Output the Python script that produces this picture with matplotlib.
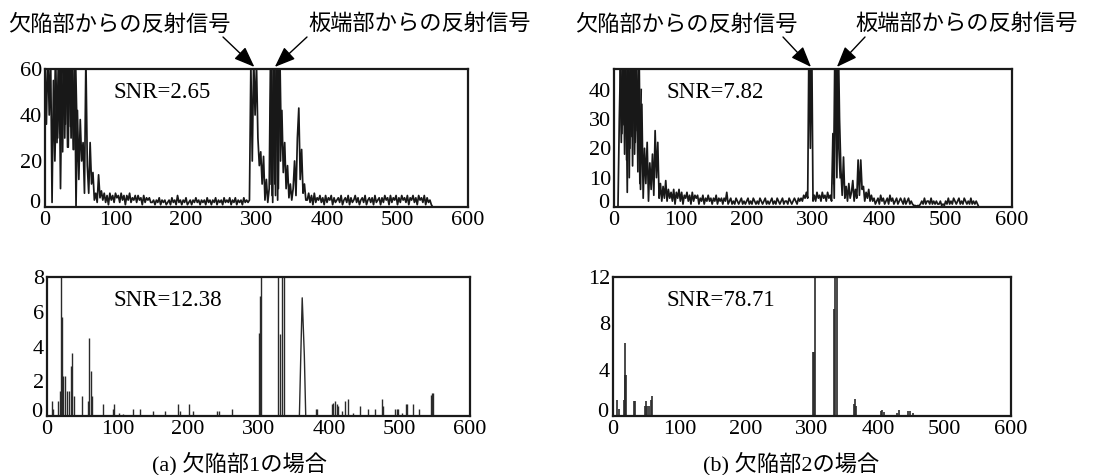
import numpy as np
import matplotlib
matplotlib.use("Agg")
import matplotlib.pyplot as plt
import matplotlib.transforms as mtransforms

# ---------------- data ----------------
# raw signals, sampled every 2 units along the horizontal axis (x = 0, 2, 4, ...)
raw_a = [
    62, 36, 70, 40, 66, 2,                      # 0-10
    55, 20, 48, 30, 64, 8, 58,                  # 12-24
    70, 30, 75, 26, 80, 35, 72, 25, 68, 0,      # 26-44
    42, 12, 38, 20, 28, 6,                      # 46-56
    65,                                         # 58
    18, 6, 28, 10, 15, 3,                       # 60-70
    6, 2, 14, 4, 7,                             # 72-80
    3, 6, 2, 5, 1, 6, 3, 5, 2, 6, 4, 5, 2, 6, 3, 5, 1, 5, 3, 6,
    2, 4, 3, 5, 2, 5, 3, 4, 1, 5, 2, 4, 3, 4, 2,          # 82-150
    2, 3, 1, 3, 2, 4, 1, 3, 2, 3, 1, 2, 3, 1, 4, 2, 3, 1, 5, 2,
    3, 1, 3, 2, 4, 1, 2, 3, 1, 3, 2, 4, 2, 3, 1, 3, 2, 3, 1, 4,
    2, 3, 1, 3, 2, 4, 1, 3, 2, 3, 1, 4, 2, 3, 2, 4, 1, 3, 2, 4,
    1, 3, 2, 3, 1, 4, 2, 3, 2, 3,                          # 152-290
    62, 20, 65, 40, 62,                         # 292-300
    30, 18, 24, 10, 22, 3, 12, 2, 8,            # 302-318
    70, 5, 75, 10, 70, 3, 72, 20,               # 320-334
    42, 15, 28, 8, 18, 4, 10, 3,                # 336-350
    8, 20, 5, 30, 43, 12, 25, 6, 10, 3,         # 352-370
    3, 6, 2, 5, 1, 6, 2, 4, 3, 5, 2, 4, 1, 5, 2, 4, 3, 5, 1, 4,
    2, 3, 4, 2, 5, 1, 3, 4, 2, 5, 1, 4, 2, 3, 5, 2, 4, 1, 3, 4,
    2, 5, 1, 3, 4, 2, 4, 1, 5, 2, 3, 4, 1, 4, 2, 5, 3, 4, 1, 5,
    2, 4, 3, 5, 1, 4, 2, 5, 3, 4, 2, 5, 1, 4, 3, 5, 2, 4, 1, 5,
    3, 4, 2, 5, 1, 4, 2, 3, 1, 0,                          # 372-550
]
# odd-position samples inside the dense (saturated) parts of signal (a)
dense_a_start = [13, 319]
dense_a_vals = [
    [30, 70, 28, 66, 32, 72, 24, 70, 36, 68, 26, 74, 30, 66, 25, 70, 40, 20],  # 13-47
    [10, 70, 2, 72, 5, 75, 8, 70, 30],                                         # 319-335
]

raw_b = [
    0, 0, 0, 0,                                             # 0-6
    30, 52, 25, 55, 18, 50, 5, 58, 20, 60, 14, 52, 22, 48,  # 8-34
    12, 50, 6, 35,                                          # 36-42
    3, 20, 8, 22, 2, 15, 6, 18,                             # 44-58
    4, 26, 10, 22,                                          # 60-66
    3, 8, 2, 7, 3, 9, 2, 6, 3,                              # 68-84
    5, 2, 6, 1, 5, 3, 6, 2, 5, 1, 4, 3, 5, 2, 4, 1, 5, 2, 4, 3,
    4, 1, 3, 2, 4, 1, 3, 2, 4, 2, 3, 1, 3, 2, 4, 1, 3, 2, 3, 1,
    3, 2,                                                   # 86-168
    5,                                                      # 170
    1, 2, 3, 1, 2, 1, 3, 2, 1, 2, 3, 1, 2, 1, 2, 3, 1, 2, 1, 3,
    2, 1, 2, 1, 3, 2, 1, 2, 3, 1, 2, 1, 2, 3, 1, 2, 1, 3, 2, 1,
    2, 3, 1, 2, 2, 1, 3, 2, 1, 2, 3, 2, 1, 3, 2, 3, 2, 4, 3, 5,  # 172-290
    3, 60, 20, 60, 2,                                       # 292-300
    4, 2, 5, 3, 4, 2, 5, 3, 4, 2, 5, 3, 4, 2,               # 302-328
    25, 3, 60, 10, 60, 30, 13, 4,                           # 330-344
    17, 3, 7, 2, 8, 3, 5, 9, 2, 6, 3,                       # 346-366
    16, 4, 16, 6,                                           # 368-374
    7, 2, 5, 3, 6, 2, 4, 2,                                 # 376-390
    3, 1, 2, 3, 1, 4, 2, 3, 1, 2, 3, 1, 4, 2, 3, 1, 2, 3, 1, 2,
    3, 2, 1, 3, 1, 2, 3, 1, 2, 1,                           # 392-450
    0.5, 0.5, 0.3, 0.5, 0.4, 1,                             # 452-462
    2, 1, 3, 1, 2, 2, 1, 3, 1, 2, 1, 2, 1, 1, 2, 0.5, 1, 0.5, 2, 1,
    3, 1, 2, 1, 3, 2, 1, 2, 3, 1, 2, 1, 3, 2, 1, 2, 1, 3, 1, 2,
    1, 2, 1, 0,                                             # 464-550
]
dense_b_start = [9, 295, 331]
dense_b_vals = [
    [50, 22, 58, 28, 55, 16, 52, 10, 60, 24, 56, 18, 50, 26, 54, 8, 40],  # 9-41
    [40, 60, 55],                                                         # 295-299
    [8, 55, 40, 60, 20, 10],                                              # 331-341
]

# processed signals: spike positions and heights
proc_a_x = [7, 9, 16, 18, 20, 21, 23, 25, 29, 31, 33.5, 35.5, 38, 50, 58, 60, 62, 64,
            80, 93, 95, 102, 108, 122, 132, 151, 168, 186, 189, 202, 207, 241, 244, 263,
            300, 302, 304, 327, 331, 334, 336,
            381, 383, 404, 406, 409, 411, 413, 418, 422, 427, 434, 444, 456, 465,
            475, 477, 494, 496, 498, 504, 509, 511, 519, 528, 544, 546, 548]
proc_a_y = [0.87, 0.4, 0.87, 1.45, 9, 5.7, 2.3, 2.3, 1.45, 1.45, 2.9, 3.6, 1.15, 1.15, 0.87, 4.5, 2.6, 1.15,
            0.67, 0.4, 0.67, 0.2, 0.1, 0.4, 0.4, 0.3, 0.3, 0.67, 0.3, 0.67, 0.3, 0.3, 0.3, 0.4,
            4.8, 6.9, 9, 9, 4.7, 9, 9,
            0.4, 0.4, 0.67, 0.77, 0.87, 0.67, 0.6, 0.3, 0.87, 1.0, 0.2, 0.6, 0.4, 0.4,
            1.0, 0.6, 0.4, 0.4, 0.4, 0.2, 0.67, 0.67, 0.67, 0.4, 1.2, 1.3, 1.35]
# triangular echo near 360 in (a)
echo_a_x = [358, 360, 362, 365, 367]
echo_a_y = [0, 3.5, 6.8, 3.5, 0]

proc_b_x = [6, 8.5, 16, 17.6, 18.6, 19.6, 31, 33, 48.7, 50, 52, 54, 57, 59,
            302, 303, 305, 333, 335, 337, 363, 365, 367, 404, 406, 408, 428, 431, 445, 448, 453]
proc_b_y = [1.36, 0.64, 1.36, 3.5, 6.3, 3.5, 1.3, 1.3, 0.87, 1.3, 0.87, 0.87, 1.36, 1.73,
            5.5, 5.5, 13, 9.2, 13, 13, 1.0, 1.5, 0.9, 0.43, 0.5, 0.35, 0.3, 0.5, 0.43, 0.43, 0.3]

snr_labels = ["SNR=2.65", "SNR=7.82", "SNR=12.38", "SNR=78.71"]
xticks = [0, 100, 200, 300, 400, 500, 600]
yticks_a_raw = [0, 20, 40, 60]
yticks_b_raw = [0, 10, 20, 30, 40]
yticks_a_proc = [0, 2, 4, 6, 8]
yticks_b_proc = [0, 4, 8, 12]
captions = ["(a) 欠陥部1の場合", "(b) 欠陥部2の場合"]
label_defect = "欠陥部からの反射信号"
label_edge = "板端部からの反射信号"

# ---------------- figure ----------------
W, H = 1114, 475
fig = plt.figure(figsize=(W / 100, H / 100), dpi=100)

SERIF = ["Liberation Serif", "DejaVu Serif"]
JP = ["Liberation Serif", "Noto Sans CJK JP"]

def px_axes(l, t, r, b):
    return fig.add_axes([l / W, 1 - b / H, (r - l) / W, (b - t) / H])

ax_tl = px_axes(45, 69, 468, 207)
ax_bl = px_axes(47, 277, 470, 416)
ax_tr = px_axes(614, 69, 1012, 207)
ax_br = px_axes(613, 277, 1011, 416)

line_col = "#181818"

x_a = 2 * np.arange(len(raw_a))
x_b = 2 * np.arange(len(raw_b))
ax_tl.plot(x_a, raw_a, color=line_col, lw=1.25)
ax_tr.plot(x_b, raw_b, color=line_col, lw=1.25)
for st, vals in zip(dense_a_start, dense_a_vals):
    ax_tl.plot(st + 2 * np.arange(len(vals)), vals, color=line_col, lw=1.25)
for st, vals in zip(dense_b_start, dense_b_vals):
    ax_tr.plot(st + 2 * np.arange(len(vals)), vals, color=line_col, lw=1.25)

ax_bl.vlines(proc_a_x, 0, proc_a_y, color="#2a2a2a", lw=1.0)
ax_bl.plot(echo_a_x, echo_a_y, color="#2a2a2a", lw=1.0)
ax_br.vlines(proc_b_x, 0, proc_b_y, color="#2a2a2a", lw=1.2)

setup = [
    (ax_tl, (0, 60), yticks_a_raw, snr_labels[0], 166),
    (ax_tr, (0, 47), yticks_b_raw, snr_labels[1], 152),
    (ax_bl, (0, 8), yticks_a_proc, snr_labels[2], 172),
    (ax_br, (0, 12), yticks_b_proc, snr_labels[3], 162),
]
for ax, ylim, yt, snr, sx in setup:
    ax.set_xlim(0, 600)
    ax.set_ylim(*ylim)
    ax.set_xticks(xticks)
    ax.set_yticks(yt)
    ax.tick_params(length=0, labelsize=16, pad=3)
    ax.tick_params(axis="y", pad=2)
    for lab in ax.get_xticklabels() + ax.get_yticklabels():
        lab.set_family(SERIF)
    # lift the y-axis "0" a little so it sits above the x-axis "0", as in the reference
    t0 = ax.yaxis.get_major_ticks()[0].label1
    t0.set_transform(t0.get_transform() +
                     mtransforms.ScaledTranslation(-2 / 100, 6 / 100, fig.dpi_scale_trans))
    for s in ax.spines.values():
        s.set_linewidth(1.6)
        s.set_color("#1a1a1a")
    ax.text(sx, 0.83, snr, transform=ax.get_xaxis_transform(), ha="center", va="center",
            fontsize=16.5, family=SERIF)

# arrows and labels
def fig_text(xp, yp, s, **kw):
    fig.text(xp / W, 1 - yp / H, s, **kw)

arrow_kw = dict(arrowstyle="-|>,head_length=0.9,head_width=0.35", color="black", lw=1.0,
                shrinkA=0, shrinkB=0, mutation_scale=14)

fig_text(119, 25, label_defect, ha="center", va="center", fontsize=16, family=JP)
fig_text(420, 25, label_edge, ha="center", va="center", fontsize=16, family=JP)
fig_text(686, 25, label_defect, ha="center", va="center", fontsize=16, family=JP)
fig_text(967, 25, label_edge, ha="center", va="center", fontsize=16, family=JP)

ax_tl.annotate("", xy=(297, 1.015), xycoords=ax_tl.get_xaxis_transform(),
               xytext=(223, H - 37), textcoords="figure pixels", arrowprops=arrow_kw)
ax_tl.annotate("", xy=(326, 1.015), xycoords=ax_tl.get_xaxis_transform(),
               xytext=(307, H - 37), textcoords="figure pixels", arrowprops=arrow_kw)
ax_tr.annotate("", xy=(297, 1.015), xycoords=ax_tr.get_xaxis_transform(),
               xytext=(783, H - 37), textcoords="figure pixels", arrowprops=arrow_kw)
ax_tr.annotate("", xy=(336, 1.015), xycoords=ax_tr.get_xaxis_transform(),
               xytext=(865, H - 37), textcoords="figure pixels", arrowprops=arrow_kw)

fig_text(240, 464, captions[0], ha="center", va="center", fontsize=16, family=JP)
fig_text(791, 464, captions[1], ha="center", va="center", fontsize=16, family=JP)

fig.savefig("out.png", dpi=100, facecolor="white")
